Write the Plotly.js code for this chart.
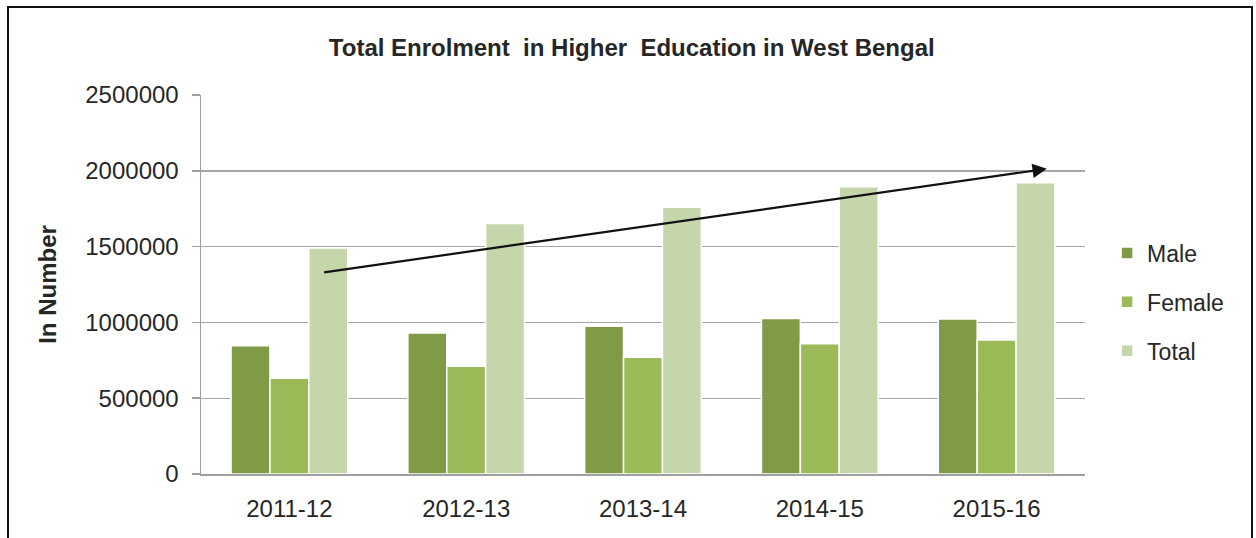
<!DOCTYPE html>
<html>
<head>
<meta charset="utf-8">
<script src="https://cdn.plot.ly/plotly-3.0.1.min.js"></script>
<style>
  html, body { margin: 0; padding: 0; background: #fff; overflow: hidden; }
  #wrap { position: relative; width: 1256px; height: 538px; }
  #chart { position: absolute; left: 0; top: 0; width: 1256px; height: 538px; }
  #frame { position: absolute; left: 7px; top: 6px; width: 1242px; height: 600px;
           border: 2.5px solid #111; border-bottom: none; pointer-events: none; }
</style>
</head>
<body>
<div id="wrap">
  <div id="chart"></div>
  <div id="frame"></div>
</div>
<script>
// ---- data ----
const categories = ['2011-12', '2012-13', '2013-14', '2014-15', '2015-16'];
const male   = [846000, 930000, 974000, 1026000, 1022000];
const female = [632000, 711000, 770000, 859000, 884000];
const total  = [1491000, 1653000, 1759000, 1895000, 1921000];
const seriesNames = ['Male', 'Female', 'Total'];
const yTicks = [0, 500000, 1000000, 1500000, 2000000, 2500000];

// ---- styling ----
const colors = ['#7f9b45', '#9bbb59', '#c6d6ab'];
const txt = '#262626';
const FONT = 'Liberation Sans, Arial, sans-serif';

const seriesData = [male, female, total];
const traces = seriesData.map((vals, i) => ({
  type: 'bar',
  name: seriesNames[i],
  x: categories,
  y: vals,
  legendgroup: 'g' + i,
  marker: { color: colors[i], line: { color: '#ffffff', width: 1.5 } },
  hoverinfo: 'x+y+name'
}));

const layout = {
  width: 1256,
  height: 538,
  paper_bgcolor: '#ffffff',
  plot_bgcolor: '#ffffff',
  margin: { l: 201, r: 171, t: 95, b: 64 },
  barmode: 'group',
  bargap: 0.34,
  bargroupgap: 0,
  font: { family: FONT, color: txt, size: 23 },
  title: {
    text: 'Total Enrolment  in Higher  Education in West Bengal',
    font: { family: FONT, size: 24, color: txt, weight: 'bold' },
    x: 0.503, xref: 'container', xanchor: 'center',
    y: 0.912, yref: 'container', yanchor: 'middle'
  },
  xaxis: {
    type: 'category',
    showline: true, linecolor: '#a0a0a0', linewidth: 1.5,
    ticks: '', showgrid: false,
    tickfont: { size: 24, color: txt, family: FONT },
    ticklabelstandoff: 13
  },
  yaxis: {
    range: [0, 2500000],
    tickvals: yTicks,
    ticktext: yTicks.map(v => String(v)),
    showline: true, linecolor: '#a0a0a0', linewidth: 1.5,
    ticks: 'outside', ticklen: 8, tickcolor: '#a0a0a0', tickwidth: 1.5,
    showgrid: true, gridcolor: '#a6a6a6', gridwidth: 1.4,
    zeroline: false,
    ticklabelstandoff: 8,
    tickfont: { size: 24, color: txt, family: FONT },
    title: { text: 'In Number', font: { size: 24, color: txt, family: FONT, weight: 'bold' }, standoff: 22 }
  },
  legend: {
    x: 1.025, xanchor: 'left',
    y: 0.454, yanchor: 'middle',
    font: { size: 23, color: txt, family: FONT },
    tracegroupgap: 16,
    bgcolor: 'rgba(0,0,0,0)'
  },
  showlegend: true,
  annotations: [{
    xref: 'x', yref: 'y', axref: 'x', ayref: 'y',
    x: 4.284, y: 2013000,
    ax: 0.188, ay: 1329000,
    text: '',
    showarrow: true,
    arrowhead: 2, arrowsize: 1.3, arrowwidth: 2.2, arrowcolor: '#111111'
  }]
};

Plotly.newPlot('chart', traces, layout, { displayModeBar: false, staticPlot: true });
</script>
</body>
</html>
